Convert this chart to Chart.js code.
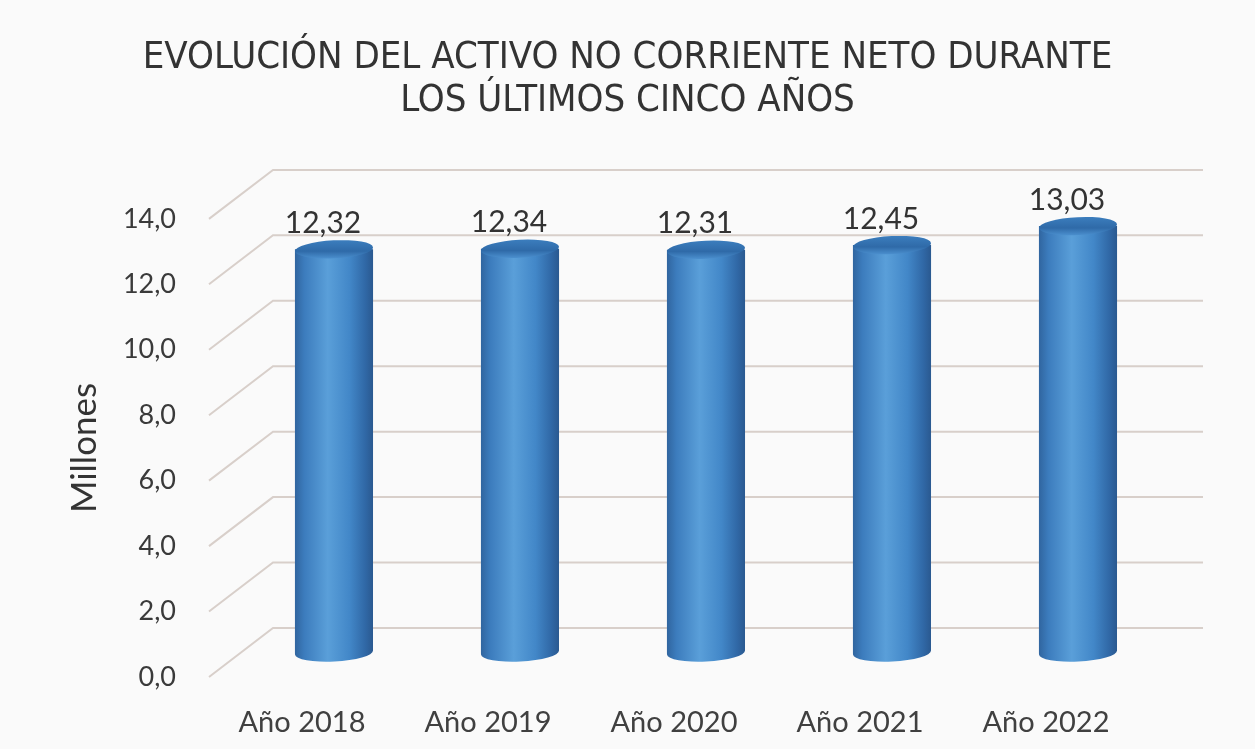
<!DOCTYPE html>
<html>
<head>
<meta charset="utf-8">
<script src="https://cdn.jsdelivr.net/npm/chart.js@4.4.1/dist/chart.umd.min.js"></script>
<style>
  html, body { margin: 0; padding: 0; background: #fafafa; }
  #wrap { width: 1255px; height: 749px; }
</style>
</head>
<body>
<div id="wrap"><canvas id="c1"></canvas></div>
<script>
// datos
const years = ["Año 2018", "Año 2019", "Año 2020", "Año 2021", "Año 2022"];
const activoNeto = [12.32, 12.34, 12.31, 12.45, 13.03];
const yMin = 0;
const yMax = 14;
const yStep = 2;
const titleLines = ["EVOLUCIÓN DEL ACTIVO NO CORRIENTE NETO DURANTE", "LOS ÚLTIMOS CINCO AÑOS"];

// perspectiva: desplazamiento del plano del fondo respecto al frontal
const DX = 64;
const DY = -49;

const coma = (v, d) => v.toFixed(d).replace(".", ",");

const cylinders = {
  id: "cylinders",
  beforeDatasetsDraw(chart) {
    const ctx = chart.ctx;
    const y = chart.scales.y;
    const left = chart.chartArea.left, right = chart.chartArea.right;
    ctx.save();
    ctx.strokeStyle = "#d8cfca";
    ctx.lineWidth = 2;
    y.ticks.forEach(t => {
      const py = y.getPixelForValue(t.value);
      ctx.beginPath();
      ctx.moveTo(left, py);
      ctx.lineTo(left + DX, py + DY);
      ctx.lineTo(right + DX, py + DY);
      ctx.stroke();
    });
    ctx.restore();
  },
  afterDatasetsDraw(chart) {
    const ctx = chart.ctx;
    const meta = chart.getDatasetMeta(0);
    const vals = chart.data.datasets[0].data;
    ctx.save();
    meta.data.forEach((bar, i) => {
      const p = bar.getProps(["x", "y", "base", "width"], true);
      const cx = p.x + DX / 2;
      const top = p.y + DY / 2;
      const bot = p.base + DY / 2;
      const rx = p.width / 2;
      const ry = 9;
      const rot = -0.05;

      // cuerpo
      const g = ctx.createLinearGradient(cx - rx, 0, cx + rx, 0);
      g.addColorStop(0, "#30659f");
      g.addColorStop(0.12, "#3c7cbd");
      g.addColorStop(0.42, "#5a9fd9");
      g.addColorStop(0.7, "#4287c8");
      g.addColorStop(0.9, "#3068a6");
      g.addColorStop(1, "#2a5990");
      ctx.fillStyle = g;
      ctx.beginPath();
      ctx.moveTo(cx - rx, top);
      ctx.lineTo(cx - rx, bot);
      ctx.ellipse(cx, bot, rx, ry, rot, Math.PI, 0, true);
      ctx.lineTo(cx + rx, top);
      ctx.closePath();
      ctx.fill();

      // tapa
      const gt = ctx.createLinearGradient(0, top - ry, 0, top + ry);
      gt.addColorStop(0, "#3b7dbd");
      gt.addColorStop(0.6, "#2f6aa8");
      gt.addColorStop(1, "#4a8ecd");
      ctx.fillStyle = gt;
      ctx.beginPath();
      ctx.ellipse(cx, top, rx, ry, rot, 0, Math.PI * 2);
      ctx.fill();

      // etiqueta de valor
      ctx.fillStyle = "#333333";
      ctx.font = "30px Lato, sans-serif";
      ctx.textAlign = "center";
      ctx.textBaseline = "middle";
      ctx.fillText(coma(vals[i], 2), cx - 11, top - 26);
    });
    ctx.restore();
  }
};

new Chart(document.getElementById("c1"), {
  type: "bar",
  data: {
    labels: years,
    datasets: [{
      data: activoNeto,
      backgroundColor: "rgba(0,0,0,0)",
      barPercentage: 0.42,
      categoryPercentage: 1
    }]
  },
  options: {
    responsive: true,
    maintainAspectRatio: false,
    animation: false,
    layout: { padding: 0 },
    plugins: {
      legend: { display: false },
      tooltip: { enabled: false },
      title: {
        display: true,
        text: titleLines,
        color: "#333333",
        font: { family: "'Liberation Sans Narrow', 'DejaVu Sans Condensed', sans-serif", size: 38, weight: "normal", lineHeight: 1.13 },
        padding: { top: 37, bottom: 96 }
      }
    },
    scales: {
      x: {
        grid: { display: false },
        border: { display: false },
        ticks: { color: "#404040", font: { family: "Lato, sans-serif", size: 29 }, padding: 20 },
        afterFit(s) { s.height = 72; }
      },
      y: {
        min: yMin,
        max: yMax,
        grid: { display: false },
        border: { display: false },
        ticks: {
          stepSize: yStep,
          color: "#3a3a3a",
          font: { family: "Lato, sans-serif", size: 27 },
          padding: 25,
          callback: v => coma(v, 1)
        },
        title: {
          display: true,
          text: "Millones",
          color: "#333333",
          font: { family: "Lato, sans-serif", size: 35 },
          padding: { top: 64, bottom: 0 }
        },
        afterFit(s) { s.width = 209; }
      },
      // margen derecho reservado para el fondo en perspectiva
      margen: {
        position: "right",
        grid: { display: false },
        border: { display: false },
        ticks: { display: false },
        afterFit(s) { s.width = 116; }
      }
    }
  },
  plugins: [cylinders]
});
</script>
</body>
</html>
